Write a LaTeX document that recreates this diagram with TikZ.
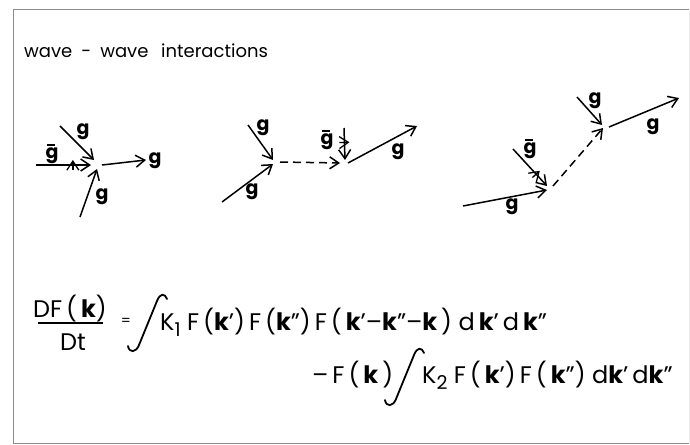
\documentclass[tikz,border=0pt]{standalone}
\usepackage{fontspec}
\setmainfont{Poppins}
\usetikzlibrary{arrows.meta,decorations.markings}
\newcommand{\gbar}{\leavevmode\rlap{\hspace{0.1em}\raisebox{0.68em}{\rule{0.42em}{0.09em}}}g}
\newcommand{\bk}{\textbf{k}}
\newcommand{\lowsub}[1]{\raisebox{-0.5ex}{\fontsize{19}{19}\selectfont #1}}
\newcommand{\ftxt}{\fontsize{24}{24}\selectfont}
\tikzset{
  wave/.style={line width=1.5pt, -{Straight Barb[length=9pt,width=12pt]}},
  virtual/.style={wave, dash pattern=on 8pt off 5pt},
  tickbar/.style={postaction={decorate},
    decoration={markings, mark=at position #1 with {\draw[line width=1.3pt] (0,-5pt) -- (0,5pt);}}},
  glabel/.style={font=\fontsize{19}{19}\selectfont\bfseries, inner sep=0pt},
  ftext/.style={font=\ftxt, inner sep=0pt},
  frame/.style={draw=black!45, line width=1pt},
  intsign/.style={line width=1.8pt, line cap=round},
}
\begin{document}
\begin{tikzpicture}[x=1pt, y=-1pt]
\useasboundingbox (0,0) rectangle (690,444);
% frame
\draw[frame] (689,10) -- (13,10) -- (13,443) -- (689,443);
\draw[frame, draw=black!8] (689,10) -- (689,443);

% title
\node[anchor=base west, inner sep=0pt, font=\fontsize{18}{18}\selectfont] (title) at (24,57)
  {wave\hspace{0.5em}-\hspace{0.5em}wave\hspace{0.7em}interactions};

% first diagram
\coordinate (a1s) at (36,165); \coordinate (a1e) at (91,165);
\coordinate (a2s) at (60,126); \coordinate (a2e) at (94,160);
\coordinate (a3s) at (80,217); \coordinate (a3e) at (97,169);
\coordinate (a4s) at (102,165); \coordinate (a4e) at (146,160);
\draw[wave, tickbar=0.67] (a1s) -- (a1e);
\draw[wave] (a2s) -- (a2e);
\draw[wave] (a3s) -- (a3e);
\draw[wave] (a4s) -- (a4e);
\node[glabel] (l1) at (52,154) {\gbar};
\node[glabel] (l2) at (83,132) {g};
\node[glabel] (l3) at (102,197) {g};
\node[glabel] (l4) at (155,161) {g};

% second diagram
\coordinate (b1s) at (248,125); \coordinate (b1e) at (273,160);
\coordinate (b2s) at (222,202); \coordinate (b2e) at (273,164);
\coordinate (b3s) at (280,162); \coordinate (b3e) at (340,163);
\coordinate (b4s) at (344,128); \coordinate (b4e) at (345,160);
\coordinate (b5s) at (348,163); \coordinate (b5e) at (417,126);
\draw[wave] (b1s) -- (b1e);
\draw[wave] (b2s) -- (b2e);
\draw[virtual] (b3s) -- (b3e);
\draw[wave, tickbar=0.45] (b4s) -- (b4e);
\draw[wave] (b5s) -- (b5e);
\node[glabel] (m1) at (263,128) {g};
\node[glabel] (m2) at (252,192) {g};
\node[glabel] (m3) at (327,140) {\gbar};
\node[glabel] (m4) at (398,152) {g};

% third diagram
\coordinate (c1s) at (463,206); \coordinate (c1e) at (547,190);
\coordinate (c2s) at (513,149); \coordinate (c2e) at (547,186);
\coordinate (c3s) at (553,186); \coordinate (c3e) at (603,128);
\coordinate (c4s) at (577,97);  \coordinate (c4e) at (602,125);
\coordinate (c5s) at (609,127); \coordinate (c5e) at (679,98);
\draw[wave] (c1s) -- (c1e);
\draw[wave, tickbar=0.68] (c2s) -- (c2e);
\draw[virtual] (c3s) -- (c3e);
\draw[wave] (c4s) -- (c4e);
\draw[wave] (c5s) -- (c5e);
\node[glabel] (n1) at (512,207) {g};
\node[glabel] (n2) at (530,149) {\gbar};
\node[glabel] (n3) at (595,101) {g};
\node[glabel] (n4) at (653,127) {g};

% kinetic equation
\node[ftext, anchor=base] (num) at (70,317) {DF\,(\,\bk)};
\node[ftext, anchor=base] (den) at (73,350) {Dt};
\coordinate (barl) at (38,323); \coordinate (barr) at (103,323);
\draw[line width=1.5pt] (barl) -- (barr);
\node[inner sep=0pt, font=\fontsize{14}{14}\selectfont] (eq) at (126,322) {=};
\draw[intsign, shift={(128,350)}] (0,-4) .. controls (1,3) and (8,3) .. (11,-5)
  -- (29,-49) .. controls (32,-57) and (37,-57) .. (39,-51);
\node[ftext, anchor=base west] (rhs1) at (160,330)
  {K\lowsub{1}\ F\,(\bk’)\,F\,(\bk”)\,F\,(\,\bk’–\bk”–\bk\,)\ d\,\bk’\,d\,\bk”};
\node[ftext, anchor=base west] (rhs2) at (312,383) {–\,F\,(\,\bk\,)};
\draw[intsign, shift={(385,404)}] (0,-4) .. controls (1,3) and (8,3) .. (11,-5)
  -- (29,-49) .. controls (32,-57) and (37,-57) .. (39,-51);
\node[ftext, anchor=base west] (rhs3) at (422,383)
  {K\lowsub{2}\ F\,(\,\bk’)\,F\,(\,\bk”)\ d\bk’\,d\bk”};
\end{tikzpicture}
\end{document}
